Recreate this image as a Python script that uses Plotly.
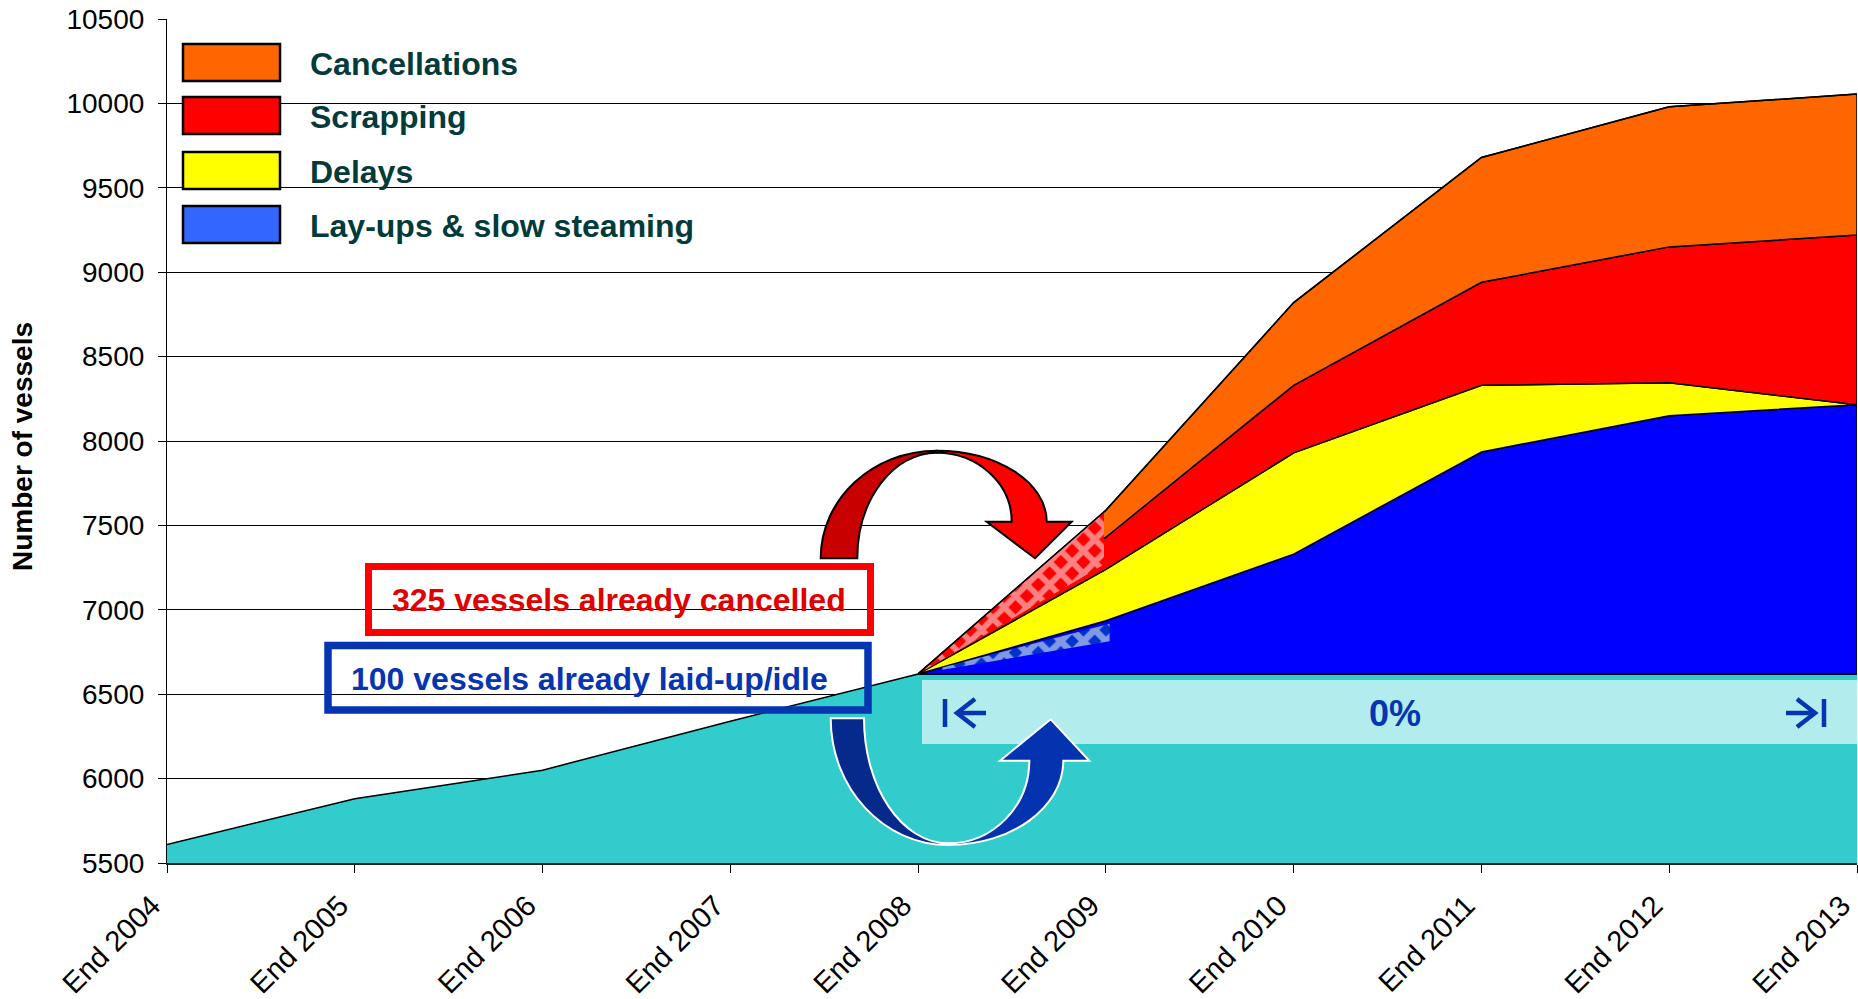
import numpy as np
import plotly.graph_objects as go

# ---------------- data ----------------
categories = ["End 2004", "End 2005", "End 2006", "End 2007", "End 2008",
              "End 2009", "End 2010", "End 2011", "End 2012", "End 2013"]
fleet = [5610, 5880, 6050, 6340, 6620, 6620, 6620, 6620, 6620, 6620]
# adjustments from End 2008 onwards (number of vessels)
layups = [0, 315, 710, 1315, 1530, 1595]
delays = [0, 305, 600, 395, 195, 0]
scrapping = [0, 190, 400, 610, 805, 1005]
cancellations = [0, 160, 490, 740, 830, 835]
growth_label = "0%"

# ---------------- geometry helpers (pixel -> paper) ----------------
W, H = 1858, 999
L, R, T, B = 167, 1857, 19, 863
FONT = "Arial, 'Liberation Sans', sans-serif"
BLUE_TXT = "#0535B0"


def px(X):
    return (X - L) / (R - L)


def py(Y):
    return (B - Y) / (B - T)


def path(cmds, close=True):
    out = []
    for c in cmds:
        op, pts = c[0], c[1:]
        out.append(op + " " + " ".join(f"{px(x):.5f},{py(y):.5f}" for x, y in pts))
    return " ".join(out) + (" Z" if close else "")


fig = go.Figure()
xs = list(range(len(categories)))
xf = xs[4:]

# base fleet
fig.add_trace(go.Scatter(x=xs, y=fleet, mode="lines", fill="tozeroy",
                         fillcolor="#33CCCC", line=dict(color="black", width=1.5),
                         hoverinfo="skip", showlegend=False))

bands = [("Lay-ups & slow steaming", layups, "#0000FF"),
         ("Delays", delays, "#FFFF00"),
         ("Scrapping", scrapping, "#FF0000"),
         ("Cancellations", cancellations, "#FF6600")]
lower = np.array(fleet[4:], dtype=float)
levels = {}
for name, vals, color in bands:
    upper = lower + np.array(vals, dtype=float)
    levels[name] = (lower.copy(), upper.copy())
    fig.add_trace(go.Scatter(x=xf + xf[::-1], y=list(upper) + list(lower[::-1]),
                             mode="lines", fill="toself", fillcolor=color,
                             line=dict(color="black", width=1.5),
                             hoverinfo="skip", showlegend=False, name=name))
    lower = upper


def interp(arr, x):
    return float(np.interp(x, xf, arr))


# checkered overlays (already cancelled / already laid up)
top_c = levels["Cancellations"][1]
yel_top = levels["Delays"][1]
xr = [4.0, 4.99]
rt = [interp(top_c, x) for x in xr]
rb = [interp(yel_top, x) + 0.1 * (interp(top_c, x) - interp(yel_top, x)) for x in xr]
fig.add_trace(go.Scatter(x=xr + xr[::-1], y=rt + rb[::-1], mode="lines", fill="toself",
                         fillcolor="#FF0000", line=dict(width=0),
                         fillpattern=dict(shape="x", bgcolor="#FF0000", fgcolor="white",
                                          size=16, solidity=0.6),
                         hoverinfo="skip", showlegend=False))
fig.add_trace(go.Scatter(x=xf, y=list(top_c), mode="lines",
                         line=dict(color="black", width=1.5),
                         hoverinfo="skip", showlegend=False))

blo, bup = levels["Lay-ups & slow steaming"]
xb = [4.13, 5.02]
bt = [interp(blo, x) + 0.92 * (interp(bup, x) - interp(blo, x)) for x in xb]
bb = [interp(blo, x) + 0.6 * (interp(bup, x) - interp(blo, x)) for x in xb]
fig.add_trace(go.Scatter(x=xb + xb[::-1], y=bt + bb[::-1], mode="lines", fill="toself",
                         fillcolor="#0033CC", line=dict(width=0),
                         fillpattern=dict(shape="x", bgcolor="#0033CC", fgcolor="white",
                                          size=16, solidity=0.65),
                         hoverinfo="skip", showlegend=False))

shapes = []
annotations = []

# light growth band
shapes.append(dict(type="rect", xref="paper", yref="paper",
                   x0=px(922), x1=px(1857), y0=py(744), y1=py(680),
                   fillcolor="#B3ECEC", line=dict(width=0), layer="above"))

# bar-arrow glyphs inside band
left_glyph = [[("M", (945, 699)), ("L", (945, 727))],
              [("M", (975, 699)), ("L", (957, 713)), ("L", (975, 727))],
              [("M", (957, 713)), ("L", (986, 713))]]
right_glyph = [[("M", (1824, 699)), ("L", (1824, 727))],
               [("M", (1797, 699)), ("L", (1815, 713)), ("L", (1797, 727))],
               [("M", (1786, 713)), ("L", (1815, 713))]]
for g in left_glyph + right_glyph:
    shapes.append(dict(type="path", xref="paper", yref="paper", path=path(g, close=False),
                       line=dict(color=BLUE_TXT, width=4.5)))

# text boxes
shapes.append(dict(type="rect", xref="paper", yref="paper",
                   x0=px(368.5), x1=px(870.5), y0=py(632.5), y1=py(566.5),
                   line=dict(color="#FF0000", width=7), fillcolor="rgba(0,0,0,0)"))
shapes.append(dict(type="rect", xref="paper", yref="paper",
                   x0=px(328), x1=px(868), y0=py(710), y1=py(645.5),
                   line=dict(color=BLUE_TXT, width=7.5), fillcolor="rgba(0,0,0,0)"))

# red curved arrow
red_left = [("M", (820.7, 558.3)),
            ("C", (820.7, 499), (872.7, 450.7), (936.7, 450.7)),
            ("L", (936.7, 452.7)),
            ("C", (893, 452.7), (857.3, 500), (857.3, 558.3))]
red_right = [("M", (936.7, 450.7)),
             ("C", (997.3, 450.7), (1046.7, 482.3), (1046.7, 521.7)),
             ("L", (1071.7, 521.7)),
             ("L", (1035, 558.3)),
             ("L", (986.7, 521.7)),
             ("L", (1011.7, 521.7)),
             ("C", (1011.7, 483.7), (978, 452.7), (936.7, 452.7))]
shapes.append(dict(type="path", xref="paper", yref="paper", path=path(red_left),
                   fillcolor="#C80000", line=dict(color="black", width=2)))
shapes.append(dict(type="path", xref="paper", yref="paper", path=path(red_right),
                   fillcolor="#FF0000", line=dict(color="black", width=2)))

# blue curved arrow
blue_left = [("M", (830.7, 718.3)),
             ("C", (830.7, 788.3), (883.3, 845), (948.3, 845)),
             ("L", (948.3, 843.3)),
             ("C", (901.7, 843.3), (864, 787.3), (864, 718.3))]
blue_right = [("M", (948.3, 845)),
              ("C", (1012, 845), (1063.3, 807.3), (1063.3, 760.7)),
              ("L", (1089.3, 760.7)),
              ("L", (1050.7, 719.3)),
              ("L", (1000, 760.7)),
              ("L", (1029.3, 760.7)),
              ("C", (1029.3, 806.3), (993, 843.3), (948.3, 843.3))]
shapes.append(dict(type="path", xref="paper", yref="paper", path=path(blue_left),
                   fillcolor="#062A8C", line=dict(color="white", width=2)))
shapes.append(dict(type="path", xref="paper", yref="paper", path=path(blue_right),
                   fillcolor="#0533AF", line=dict(color="white", width=2)))

# manual legend
legend_items = [("Cancellations", "#FF6600"), ("Scrapping", "#FF0000"),
                ("Delays", "#FFFF00"), ("Lay-ups & slow steaming", "#3366FF")]
legend_tops = [43, 96, 151, 205]
for (lab, col), top in zip(legend_items, legend_tops):
    shapes.append(dict(type="rect", xref="paper", yref="paper",
                       x0=px(183), x1=px(280), y0=py(top + 38), y1=py(top + 1),
                       fillcolor=col, line=dict(color="black", width=2.5)))
    annotations.append(dict(text=lab, xref="paper", yref="paper", x=px(308),
                            y=py(top + 21), xanchor="left", yanchor="middle",
                            showarrow=False,
                            font=dict(family=FONT, size=32, color="#033A3A", weight="bold")))

annotations.append(dict(text="325 vessels already cancelled", xref="paper", yref="paper",
                        x=px(619), y=py(600), xanchor="center", yanchor="middle",
                        showarrow=False,
                        font=dict(family=FONT, size=32, color="#E00000", weight="bold")))
annotations.append(dict(text="100 vessels already laid-up/idle", xref="paper", yref="paper",
                        x=px(589), y=py(678.5), xanchor="center", yanchor="middle",
                        showarrow=False,
                        font=dict(family=FONT, size=32, color=BLUE_TXT, weight="bold")))
annotations.append(dict(text=growth_label, xref="paper", yref="paper",
                        x=px(1395), y=py(713), xanchor="center", yanchor="middle",
                        showarrow=False,
                        font=dict(family=FONT, size=36, color=BLUE_TXT, weight="bold")))
annotations.append(dict(text="Number of vessels", xref="paper", yref="paper",
                        x=px(22), y=py(447), xanchor="center", yanchor="middle",
                        textangle=-90, showarrow=False,
                        font=dict(family=FONT, size=28, color="black", weight="bold")))

fig.update_layout(
    width=W, height=H,
    margin=dict(l=L, r=W - R, t=T, b=H - B, pad=0, autoexpand=False),
    paper_bgcolor="white", plot_bgcolor="white",
    showlegend=False,
    shapes=shapes, annotations=annotations,
    xaxis=dict(range=[0, 9], tickmode="array", tickvals=xs, ticktext=categories,
               tickangle=-45, ticks="outside", ticklen=8, tickcolor="black",
               showline=True, linecolor="#222222", linewidth=2, showgrid=False,
               zeroline=False, ticklabeloverflow="allow", ticklabelshift=-15,
               ticklabelstandoff=4, automargin=False,
               tickfont=dict(family=FONT, size=29, color="black")),
    yaxis=dict(range=[5500, 10500], dtick=500, tick0=5500, tickformat="d",
               ticks="outside", ticklen=8, automargin=False,
               tickcolor="black", showline=True, linecolor="black", linewidth=1.2,
               showgrid=True, gridcolor="black", gridwidth=1, zeroline=False,
               ticklabelstandoff=8,
               tickfont=dict(family=FONT, size=28, color="black")),
)

fig.write_html("out.html", config={"displayModeBar": False},
               post_script="document.body.style.margin='0';document.body.style.overflow='hidden';")
